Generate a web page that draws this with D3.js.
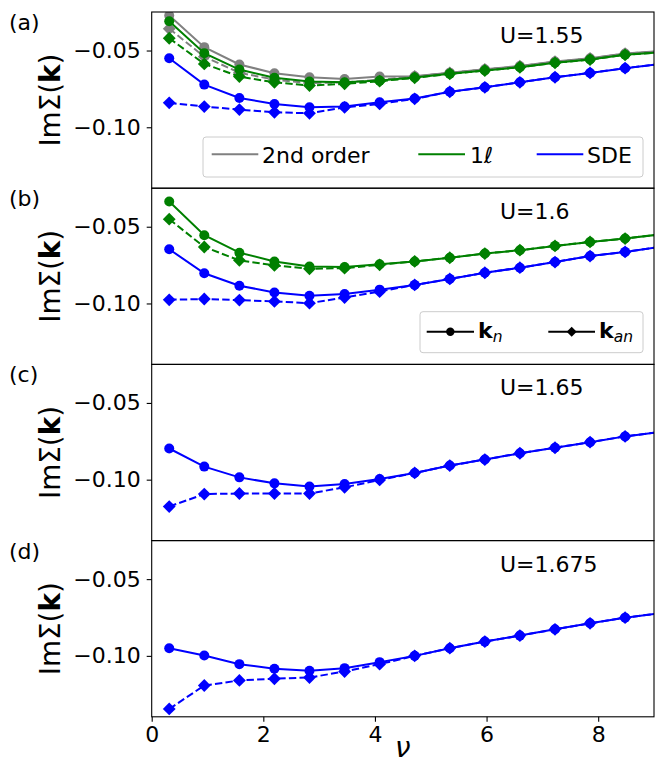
<!DOCTYPE html>
<html>
<head>
<meta charset="utf-8">
<script src="https://cdn.jsdelivr.net/npm/d3@7"></script>
<style>
  html, body { margin: 0; padding: 0; background: #fff; }
  svg { display: block; font-family: "DejaVu Sans", sans-serif; }
</style>
</head>
<body>
<div id="chart"></div>
<script>
// Matsubara frequencies (x values)
const nu = [0.314, 0.942, 1.571, 2.199, 2.827, 3.456, 4.084, 4.712, 5.341, 5.969, 6.597, 7.226, 7.854, 8.482, 9.111];
const panelLetters = ["(a)", "(b)", "(c)", "(d)"];
const uLabels = ["U=1.55", "U=1.6", "U=1.65", "U=1.675"];
const xTicks = [0, 2, 4, 6, 8];
const yTicks = [-0.05, -0.10];

// Panel (a) U=1.55
const a_gray_n   = [-0.0272, -0.0478, -0.0591, -0.0648, -0.0674, -0.0685, -0.0670, -0.0668, -0.0644, -0.0622, -0.0601, -0.0572, -0.0551, -0.0520, -0.0504];
const a_gray_an  = [-0.0358, -0.0540, -0.0645, -0.0690, -0.0712, -0.0708, -0.0690, -0.0669, -0.0645, -0.0623, -0.0602, -0.0573, -0.0552, -0.0521, -0.0505];
const a_green_n  = [-0.0309, -0.0517, -0.0624, -0.0678, -0.0702, -0.0707, -0.0696, -0.0676, -0.0652, -0.0630, -0.0609, -0.0580, -0.0559, -0.0528, -0.0512];
const a_green_an = [-0.0420, -0.0587, -0.0670, -0.0707, -0.0728, -0.0717, -0.0700, -0.0678, -0.0652, -0.0630, -0.0609, -0.0580, -0.0559, -0.0528, -0.0512];
const a_blue_n   = [-0.0550, -0.0722, -0.0809, -0.0848, -0.0870, -0.0865, -0.0837, -0.0813, -0.0769, -0.0740, -0.0707, -0.0674, -0.0646, -0.0615, -0.0588];
const a_blue_an  = [-0.0841, -0.0865, -0.0885, -0.0902, -0.0909, -0.0870, -0.0848, -0.0815, -0.0769, -0.0740, -0.0707, -0.0674, -0.0646, -0.0615, -0.0588];

// Panel (b) U=1.6
const b_green_n  = [-0.0336, -0.0555, -0.0669, -0.0726, -0.0759, -0.0763, -0.0745, -0.0726, -0.0702, -0.0675, -0.0653, -0.0625, -0.0599, -0.0577, -0.0550];
const b_green_an = [-0.0451, -0.0632, -0.0719, -0.0752, -0.0774, -0.0770, -0.0748, -0.0726, -0.0702, -0.0675, -0.0653, -0.0625, -0.0599, -0.0577, -0.0550];
const b_blue_n   = [-0.0647, -0.0803, -0.0884, -0.0928, -0.0950, -0.0938, -0.0910, -0.0879, -0.0840, -0.0800, -0.0767, -0.0730, -0.0691, -0.0664, -0.0632];
const b_blue_an  = [-0.0976, -0.0971, -0.0978, -0.0987, -0.0998, -0.0961, -0.0923, -0.0879, -0.0840, -0.0800, -0.0767, -0.0730, -0.0691, -0.0664, -0.0632];

// Panel (c) U=1.65
const c_blue_n   = [-0.0797, -0.0915, -0.0985, -0.1024, -0.1044, -0.1028, -0.0996, -0.0956, -0.0908, -0.0869, -0.0828, -0.0792, -0.0756, -0.0718, -0.0689];
const c_blue_an  = [-0.1175, -0.1094, -0.1090, -0.1090, -0.1090, -0.1050, -0.1002, -0.0956, -0.0908, -0.0869, -0.0828, -0.0792, -0.0756, -0.0718, -0.0689];

// Panel (d) U=1.675
const d_blue_n   = [-0.0950, -0.0998, -0.1054, -0.1084, -0.1097, -0.1080, -0.1041, -0.1000, -0.0950, -0.0907, -0.0868, -0.0827, -0.0788, -0.0751, -0.0722];
const d_blue_an  = [-0.1346, -0.1193, -0.1160, -0.1149, -0.1141, -0.1102, -0.1054, -0.1000, -0.0950, -0.0907, -0.0868, -0.0827, -0.0788, -0.0751, -0.0722];

const GRAY = "#808080", GREEN = "#008000", BLUE = "#0000ff";

const panels = [
  { series: [
      { c: GRAY, n: a_gray_n, an: a_gray_an },
      { c: GREEN, n: a_green_n, an: a_green_an },
      { c: BLUE, n: a_blue_n, an: a_blue_an } ] },
  { series: [
      { c: GREEN, n: b_green_n, an: b_green_an },
      { c: BLUE, n: b_blue_n, an: b_blue_an } ] },
  { series: [ { c: BLUE, n: c_blue_n, an: c_blue_an } ] },
  { series: [ { c: BLUE, n: d_blue_n, an: d_blue_an } ] }
];

const W = 664, H = 766;
const left = 151.7, right = 654;
const top0 = 12, ph = 176.2;
const yDomain = [-0.1397, -0.0249];
const FONT = 22, LABFONT = 27.8;
const R = 5, S = 6.4;

const svg = d3.select("#chart").append("svg").attr("width", W).attr("height", H);
const x = d3.scaleLinear().domain([0, 9]).range([left, right]);

function diamond(cx, cy, s) {
  return `M${cx},${cy - s}L${cx + s},${cy}L${cx},${cy + s}L${cx - s},${cy}Z`;
}

panels.forEach((p, i) => {
  const top = top0 + i * ph;
  const y = d3.scaleLinear().domain(yDomain).range([top + ph, top]);
  const g = svg.append("g");
  const clipId = "clip" + i;
  svg.append("clipPath").attr("id", clipId).append("rect")
    .attr("x", left).attr("y", top).attr("width", right - left).attr("height", ph);

  const plot = g.append("g").attr("clip-path", `url(#${clipId})`);
  const line = d3.line().x((d, k) => x(nu[k])).y(d => y(d));

  p.series.forEach(s => {
    // solid line + circles (k_n)
    plot.append("path").attr("d", line(s.n)).attr("fill", "none")
      .attr("stroke", s.c).attr("stroke-width", 2);
    plot.selectAll(null).data(s.n).enter().append("circle")
      .attr("cx", (d, k) => x(nu[k])).attr("cy", d => y(d)).attr("r", R)
      .attr("fill", s.c);
    // dashed line + diamonds (k_an)
    plot.append("path").attr("d", line(s.an)).attr("fill", "none")
      .attr("stroke", s.c).attr("stroke-width", 2).attr("stroke-dasharray", "7.4,3.2");
    plot.selectAll(null).data(s.an).enter().append("path")
      .attr("d", (d, k) => diamond(x(nu[k]), y(d), S))
      .attr("fill", s.c);
  });

  // frame
  g.append("rect").attr("x", left).attr("y", top).attr("width", right - left).attr("height", ph)
    .attr("fill", "none").attr("stroke", "#000").attr("stroke-width", 1.1);

  // y axis
  const ya = g.append("g").attr("transform", `translate(${left},0)`)
    .call(d3.axisLeft(y).tickValues(yTicks).tickSize(5).tickPadding(6)
      .tickFormat(d3.format(".2f")));
  ya.select(".domain").remove();
  ya.selectAll("line").attr("stroke", "#000").attr("stroke-width", 1.1);
  ya.selectAll("text").attr("font-size", FONT).attr("font-family", "DejaVu Sans").attr("fill", "#000");

  // y label
  const yl = g.append("text")
    .attr("transform", `translate(59.5,${top + ph / 2}) rotate(-90)`)
    .attr("text-anchor", "middle").attr("font-size", LABFONT).attr("fill", "#000");
  yl.append("tspan").text("ImΣ(");
  yl.append("tspan").attr("font-weight", "bold").text("k");
  yl.append("tspan").text(")");

  // panel letter
  g.append("text").attr("x", 9).attr("y", top + 18).attr("font-size", FONT).text(panelLetters[i]);
  // U label
  g.append("text").attr("x", 500).attr("y", top + 31).attr("font-size", FONT).text(uLabels[i]);

  if (i === panels.length - 1) {
    const xa = g.append("g").attr("transform", `translate(0,${top + ph})`)
      .call(d3.axisBottom(x).tickValues(xTicks).tickSize(5).tickPadding(5).tickFormat(d3.format("d")));
    xa.select(".domain").remove();
    xa.selectAll("line").attr("stroke", "#000").attr("stroke-width", 1.1);
    xa.selectAll("text").attr("font-size", FONT).attr("font-family", "DejaVu Sans").attr("fill", "#000");
    g.append("text").attr("x", (left + right) / 2).attr("y", 757).attr("text-anchor", "middle")
      .attr("font-size", LABFONT).attr("font-style", "italic").text("ν");
  }
});

// Legend (a)
const la = svg.append("g");
la.append("rect").attr("x", 203).attr("y", 137).attr("width", 440).attr("height", 40).attr("rx", 3)
  .attr("fill", "#fff").attr("fill-opacity", 0.8).attr("stroke", "#cccccc").attr("stroke-width", 1);
const legA = [
  { c: GRAY, x1: 211.7, x2: 258.3, tx: 262, label: "2nd order" },
  { c: GREEN, x1: 418.3, x2: 465, tx: 470, label: "1" },
  { c: BLUE, x1: 536.7, x2: 583.3, tx: 587, label: "SDE" }
];
legA.forEach(e => {
  la.append("line").attr("x1", e.x1).attr("x2", e.x2).attr("y1", 154.3).attr("y2", 154.3)
    .attr("stroke", e.c).attr("stroke-width", 2);
  const t = la.append("text").attr("x", e.tx).attr("y", 163).attr("font-size", FONT).text(e.label);
  if (e.label === "1") t.append("tspan").attr("font-style", "italic").text("ℓ");
});

// Legend (b)
const lb = svg.append("g");
lb.append("rect").attr("x", 420).attr("y", 311.7).attr("width", 223).attr("height", 41).attr("rx", 3)
  .attr("fill", "#fff").attr("fill-opacity", 0.8).attr("stroke", "#cccccc").attr("stroke-width", 1);
const ly = 331.7;
lb.append("line").attr("x1", 426.7).attr("x2", 474).attr("y1", ly).attr("y2", ly).attr("stroke", "#000").attr("stroke-width", 2);
lb.append("circle").attr("cx", 450.3).attr("cy", ly).attr("r", 4.2).attr("fill", "#000");
lb.append("line").attr("x1", 548.3).attr("x2", 595).attr("y1", ly).attr("y2", ly).attr("stroke", "#000").attr("stroke-width", 2);
lb.append("path").attr("d", diamond(571.7, ly, 5)).attr("fill", "#000");
[["n", 478], ["an", 599]].forEach(([sub, tx]) => {
  const t = lb.append("text").attr("x", tx).attr("y", 338.3).attr("font-size", FONT);
  t.append("tspan").attr("font-weight", "bold").text("k");
  t.append("tspan").attr("font-style", "italic").attr("font-size", 15.5).attr("dy", 4).text(sub);
});
</script>
</body>
</html>
